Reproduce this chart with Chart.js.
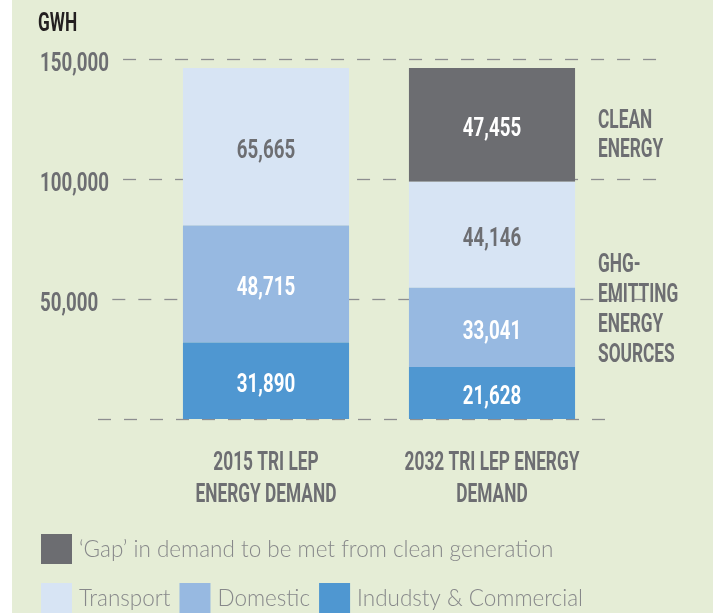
<!DOCTYPE html>
<html><head><meta charset="utf-8">
<script src="https://cdn.jsdelivr.net/npm/chart.js@4"></script>
<style>
html,body{margin:0;padding:0;background:#fff;}
canvas{display:block;background:linear-gradient(to right,#ffffff 0,#ffffff 12px,#e5edd6 12px);}
</style>
</head><body>
<canvas id="c" width="713" height="613"></canvas>
<script>
// ---- data ----
const categories = [['2015 TRI LEP', 'ENERGY DEMAND'], ['2032 TRI LEP ENERGY', 'DEMAND']];
const industry  = [31890, 21628];
const domestic  = [48715, 33041];
const transport = [65665, 44146];
const gapClean  = [null, 47455];
const yTickValues = [0, 50000, 100000, 150000];
const yTickLabels = ['', '50,000', '100,000', '150,000'];
const seriesNames = ['Indudsty & Commercial', 'Domestic', 'Transport', '\u2018Gap\u2019 in demand to be met from clean generation'];
const seriesColors = ['#4f97d1', '#97b9e1', '#d7e4f4', '#6c6d71'];
const labelColors = ['#ffffff', '#ffffff', '#6d6e72', '#ffffff'];
const axisTitle = 'GWH';
const cleanNote = ['CLEAN', 'ENERGY'];
const ghgNote = ['GHG-', 'EMITTING', 'ENERGY', 'SOURCES'];

// ---- styles ----
const FS = 26;            // condensed heading font size
const SX_NUM = 0.72;      // horizontal condensing for numbers
const SX_TXT = 0.665;     // horizontal condensing for words
const CAP = 0.711 * FS;   // cap height of Roboto
const GRAY = '#6d6e72';
const HFONT = 'bold ' + FS + 'px Roboto, "DejaVu Sans", sans-serif';

function condText(ctx, text, x, cy, align, color, sx) {
  ctx.save();
  ctx.font = HFONT;
  ctx.fillStyle = color;
  ctx.textAlign = align;
  ctx.textBaseline = 'alphabetic';
  ctx.translate(x, cy + CAP / 2);
  ctx.scale(sx, 1);
  ctx.fillText(text, 0, 0);
  ctx.restore();
}
function condWidth(ctx, text, sx) {
  ctx.save();
  ctx.font = HFONT;
  const w = ctx.measureText(text).width * sx;
  ctx.restore();
  return w;
}

const gridPlugin = {
  id: 'dashGrid',
  beforeDatasetsDraw(chart) {
    const ctx = chart.ctx, y = chart.scales.y;
    ctx.save();
    ctx.strokeStyle = '#8d8e90';
    ctx.lineWidth = 1.3;
    ctx.setLineDash([13, 13]);
    yTickValues.forEach((v, i) => {
      const py = Math.round(y.getPixelForValue(v)) + 0.5;
      const w = yTickLabels[i] ? condWidth(ctx, yTickLabels[i], SX_NUM) : 0;
      const x0 = w ? y.left + w + 14 : 98;
      const x1 = v === 0 ? chart.chartArea.right : 657;
      ctx.beginPath();
      ctx.moveTo(x0, py);
      ctx.lineTo(x1, py);
      ctx.stroke();
    });
    ctx.restore();
  }
};

const labelPlugin = {
  id: 'segLabels',
  afterDatasetsDraw(chart) {
    const ctx = chart.ctx;
    chart.data.datasets.forEach((ds, di) => {
      const meta = chart.getDatasetMeta(di);
      meta.data.forEach((el, i) => {
        const v = ds.data[i];
        if (v == null) return;
        const p = el.getProps(['x', 'y', 'base'], true);
        condText(ctx, v.toLocaleString('en-US'), p.x, (p.y + p.base) / 2 + 2, 'center', labelColors[di], SX_NUM);
      });
    });
  },
  afterDraw(chart) {
    const ctx = chart.ctx, y = chart.scales.y, x = chart.scales.x;
    // axis title
    condText(ctx, axisTitle, 38, 21.5, 'left', '#231f20', SX_TXT);
    // y tick labels
    yTickValues.forEach((v, i) => {
      if (yTickLabels[i]) condText(ctx, yTickLabels[i], y.left, y.getPixelForValue(v) + 2.5, 'left', GRAY, SX_NUM);
    });
    // x category labels
    categories.forEach((lines, i) => {
      const px = x.getPixelForTick(i);
      lines.forEach((t, j) => condText(ctx, t, px, chart.chartArea.bottom + 42 + j * 32, 'center', GRAY, SX_TXT));
    });
    // side notes
    cleanNote.forEach((t, i) => condText(ctx, t, 598, 118.5 + i * 29, 'left', GRAY, SX_TXT));
    ghgNote.forEach((t, i) => condText(ctx, t, 598, 262.5 + i * 30, 'left', GRAY, SX_TXT));
    // legend
    ctx.save();
    ctx.font = '300 22.5px Lato, "Open Sans", sans-serif';
    ctx.textAlign = 'left';
    ctx.textBaseline = 'middle';
    const drawItem = (di, lx, top) => {
      ctx.fillStyle = seriesColors[di];
      ctx.fillRect(lx, top, 31, 30);
      ctx.fillStyle = '#87888a';
      ctx.fillText(seriesNames[di], lx + 38, top + 16);
      return lx + 38 + ctx.measureText(seriesNames[di]).width + 9;
    };
    drawItem(3, 41, 534);
    let lx = 41;
    [2, 1, 0].forEach(di => { lx = drawItem(di, lx, 583); });
    ctx.restore();
  }
};

const mk = (label, data, i) => ({
  label, data, backgroundColor: seriesColors[i], borderWidth: 0
});

new Chart(document.getElementById('c'), {
  type: 'bar',
  data: {
    labels: categories,
    datasets: [
      mk(seriesNames[0], industry, 0),
      mk(seriesNames[1], domestic, 1),
      mk(seriesNames[2], transport, 2),
      mk(seriesNames[3], gapClean, 3)
    ]
  },
  options: {
    responsive: false,
    animation: false,
    devicePixelRatio: 1,
    layout: { padding: { left: 40, right: 108, top: 59, bottom: 94 } },
    datasets: { bar: { barPercentage: 0.735, categoryPercentage: 1 } },
    plugins: { legend: { display: false }, tooltip: { enabled: false } },
    scales: {
      x: {
        stacked: true,
        grid: { display: false, drawTicks: false },
        border: { display: false },
        ticks: { display: false },
        afterFit: (s) => { s.height = 100; }
      },
      y: {
        stacked: true, min: 0, max: 150000,
        grid: { display: false, drawTicks: false },
        border: { display: false },
        afterBuildTicks: (s) => { s.ticks = yTickValues.map(v => ({ value: v })); },
        ticks: { display: false },
        afterFit: (s) => { s.width = 113; }
      }
    }
  },
  plugins: [gridPlugin, labelPlugin]
});
</script>
</body></html>
